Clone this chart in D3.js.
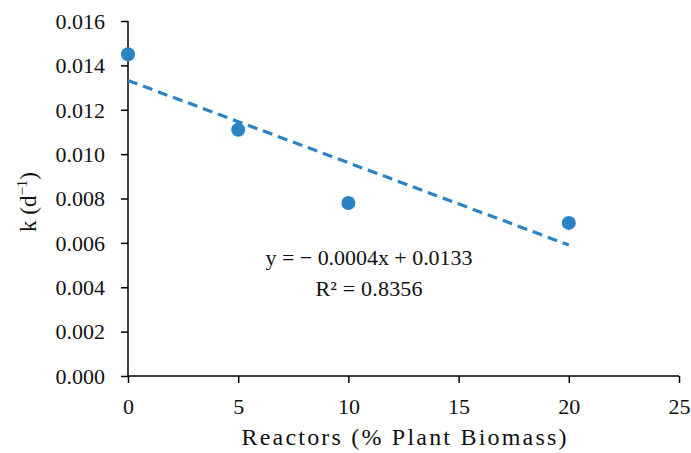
<!DOCTYPE html>
<html><head><meta charset="utf-8">
<script src="https://cdn.jsdelivr.net/npm/d3@7"></script>
<style>body{margin:0;background:#fff}svg text{font-family:"Liberation Serif","DejaVu Serif",serif !important;fill:#111}</style>
</head><body><svg id="c" width="691" height="453" font-family="Liberation Serif"></svg>
<script>
const xValues = [0, 5, 10, 20];
const kValues = [0.0145, 0.0111, 0.0078, 0.0069];
const xTicks = [0, 5, 10, 15, 20, 25];
const yTicks = [0, 0.002, 0.004, 0.006, 0.008, 0.010, 0.012, 0.014, 0.016];
const equationText = "y = − 0.0004x + 0.0133";
const r2Text = "R² = 0.8356";
const color = "#2b83c6";
const FF = "Liberation Serif";

const svg = d3.select("#c");
const x = d3.scaleLinear().domain([0, 25]).range([128, 679]);
const y = d3.scaleLinear().domain([0, 0.016]).range([376, 21]);

// trendline (least squares)
const n = xValues.length;
const mx = d3.mean(xValues), my = d3.mean(kValues);
let sxy = 0, sxx = 0;
for (let i = 0; i < n; i++) { sxy += (xValues[i]-mx)*(kValues[i]-my); sxx += (xValues[i]-mx)**2; }
const slope = sxy / sxx, intercept = my - slope * mx;

const xAxis = svg.append("g").attr("transform", "translate(0,376)")
  .call(d3.axisBottom(x).tickValues(xTicks).tickSize(7).tickFormat(d3.format("d")));
const yAxis = svg.append("g").attr("transform", "translate(128,0)")
  .call(d3.axisLeft(y).tickValues(yTicks).tickSize(7).tickPadding(16).tickFormat(d3.format(".3f")));
[xAxis, yAxis].forEach(g => {
  g.attr("font-family", FF).attr("font-size", 22);
  g.select(".domain").attr("stroke", "#000").attr("stroke-width", 1.5);
  g.selectAll(".tick line").attr("stroke", "#000").attr("stroke-width", 1.5);
  g.selectAll("text").attr("font-size", 22).attr("fill", "#111").attr("font-family", FF);
});
xAxis.selectAll(".tick text").attr("y", 38).attr("dy", 0);
yAxis.selectAll(".tick text").attr("dy", "0.33em");
xAxis.select(".domain").attr("d", "M128,0H679");
yAxis.select(".domain").attr("d", "M0,21V376");

svg.append("line")
  .attr("x1", x(0)).attr("y1", y(intercept))
  .attr("x2", x(20)).attr("y2", y(intercept + slope * 20))
  .attr("stroke", color).attr("stroke-width", 3.2).attr("stroke-dasharray", "10,6");

svg.selectAll("circle.pt").data(xValues).join("circle")
  .attr("class", "pt")
  .attr("cx", d => x(d)).attr("cy", (d, i) => y(kValues[i])).attr("r", 7)
  .attr("fill", color);

svg.append("text").attr("x", 369).attr("y", 265).attr("text-anchor", "middle")
  .attr("font-size", 22).attr("font-family", FF)
  .attr("textLength", 207).attr("lengthAdjust", "spacing").text(equationText);
svg.append("text").attr("x", 369).attr("y", 296).attr("text-anchor", "middle")
  .attr("font-size", 22).attr("font-family", FF)
  .attr("textLength", 107).attr("lengthAdjust", "spacing").text(r2Text);

svg.append("text").attr("x", 404).attr("y", 445).attr("text-anchor", "middle")
  .attr("font-size", 24).attr("font-family", FF)
  .attr("textLength", 325).attr("lengthAdjust", "spacing").text("Reactors (% Plant Biomass)");

const yl = svg.append("text").attr("transform", "translate(36,202) rotate(-90)")
  .attr("text-anchor", "middle").attr("font-size", 23).attr("font-family", FF);
yl.append("tspan").text("k (d");
yl.append("tspan").attr("font-size", 15).attr("dy", -9).text("−1");
yl.append("tspan").attr("dy", 9).text(")");
</script></body></html>
